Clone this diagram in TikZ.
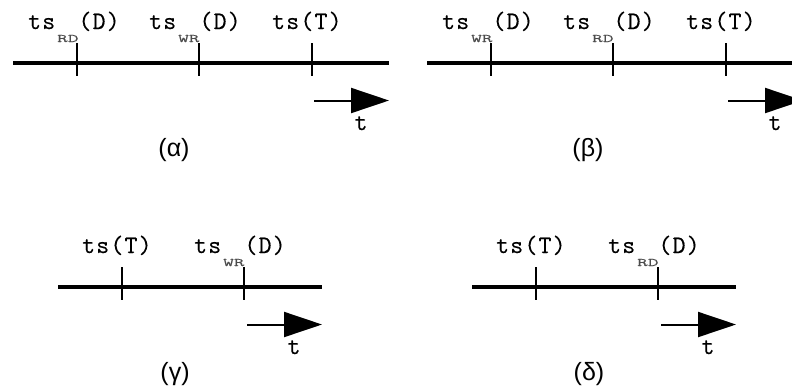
\documentclass[tikz,border=0pt]{standalone}
\usepackage{fontspec}
\usepackage{graphicx}
\usetikzlibrary{arrows.meta}
\newfontfamily\monofam{Latin Modern Mono}[LetterSpace=5,FakeBold=0.4]
\newfontfamily\subfam{Latin Modern Mono}[FakeBold=0.3]
\newfontfamily\sansfam{Liberation Sans}
\newcommand{\tsub}[1]{{\monofam ts}\hspace{2bp}\raisebox{-13bp}{\scalebox{1.8}[1]{\subfam\fontsize{11.5bp}{13bp}\selectfont\color{black!70}#1}}{\monofam (D)}}
\tikzset{
  axisline/.style={line width=4bp},
  tickmark/.style={line width=2bp},
  lbl/.style={anchor=base west, inner sep=0pt, font=\monofam\fontsize{25bp}{28bp}\selectfont},
  tlbl/.style={anchor=base, inner sep=0pt, font=\monofam\fontsize{25bp}{28bp}\selectfont},
  captext/.style={inner sep=0pt, font=\sansfam\fontsize{25bp}{28bp}\selectfont},
  timearrow/.style={line width=2bp, -{Triangle[length=38bp,width=25bp]}}
}
\begin{document}
\begin{tikzpicture}[x=1bp,y=-1bp]
\useasboundingbox (0,0) rectangle (792,387);
\clip (0,0) rectangle (792,387);

% (alpha): RD, WR, T
\coordinate (a0) at (13,63);  \coordinate (a1) at (389,63);
\draw[axisline] (a0) -- (a1);
\foreach \x/\n in {77/1,199/2,312/3} {
  \coordinate (at\n u) at (\x,43); \coordinate (at\n d) at (\x,76);
  \draw[tickmark] (at\n u) -- (at\n d);
}
\node[lbl] (alA) at (28,29) {\tsub{RD}};
\node[lbl] (alB) at (149,29) {\tsub{WR}};
\node[lbl] (alC) at (272,29) {ts(T)};
\coordinate (as) at (314,100.5); \coordinate (ae) at (389,100.5);
\draw[timearrow] (as) -- (ae);
\node[tlbl] (at) at (361,130) {t};
\node[captext] (acap) at (174,150) {(α)};

% (beta): WR, RD, T
\coordinate (b0) at (427,63);  \coordinate (b1) at (803,63);
\draw[axisline] (b0) -- (b1);
\foreach \x/\n in {491/1,613/2,726/3} {
  \coordinate (bt\n u) at (\x,43); \coordinate (bt\n d) at (\x,76);
  \draw[tickmark] (bt\n u) -- (bt\n d);
}
\node[lbl] (blA) at (442,29) {\tsub{WR}};
\node[lbl] (blB) at (563,29) {\tsub{RD}};
\node[lbl] (blC) at (686,29) {ts(T)};
\coordinate (bs) at (728,100.5); \coordinate (be) at (803,100.5);
\draw[timearrow] (bs) -- (be);
\node[tlbl] (bt) at (775,130) {t};
\node[captext] (bcap) at (588,150) {(β)};

% (gamma): T, WR
\coordinate (c0) at (58,287);  \coordinate (c1) at (322,287);
\draw[axisline] (c0) -- (c1);
\foreach \x/\n in {122/1,244/2} {
  \coordinate (ct\n u) at (\x,267); \coordinate (ct\n d) at (\x,300);
  \draw[tickmark] (ct\n u) -- (ct\n d);
}
\node[lbl] (clA) at (82,253) {ts(T)};
\node[lbl] (clB) at (194,253) {\tsub{WR}};
\coordinate (cs) at (247,324.5); \coordinate (ce) at (322,324.5);
\draw[timearrow] (cs) -- (ce);
\node[tlbl] (ct) at (294,354) {t};
\node[captext] (ccap) at (175,374) {(γ)};

% (delta): T, RD
\coordinate (d0) at (472,287);  \coordinate (d1) at (736,287);
\draw[axisline] (d0) -- (d1);
\foreach \x/\n in {536/1,658/2} {
  \coordinate (dt\n u) at (\x,267); \coordinate (dt\n d) at (\x,300);
  \draw[tickmark] (dt\n u) -- (dt\n d);
}
\node[lbl] (dlA) at (496,253) {ts(T)};
\node[lbl] (dlB) at (608,253) {\tsub{RD}};
\coordinate (ds) at (661,324.5); \coordinate (de) at (736,324.5);
\draw[timearrow] (ds) -- (de);
\node[tlbl] (dt) at (708,354) {t};
\node[captext] (dcap) at (589,374) {(δ)};
\end{tikzpicture}
\end{document}
